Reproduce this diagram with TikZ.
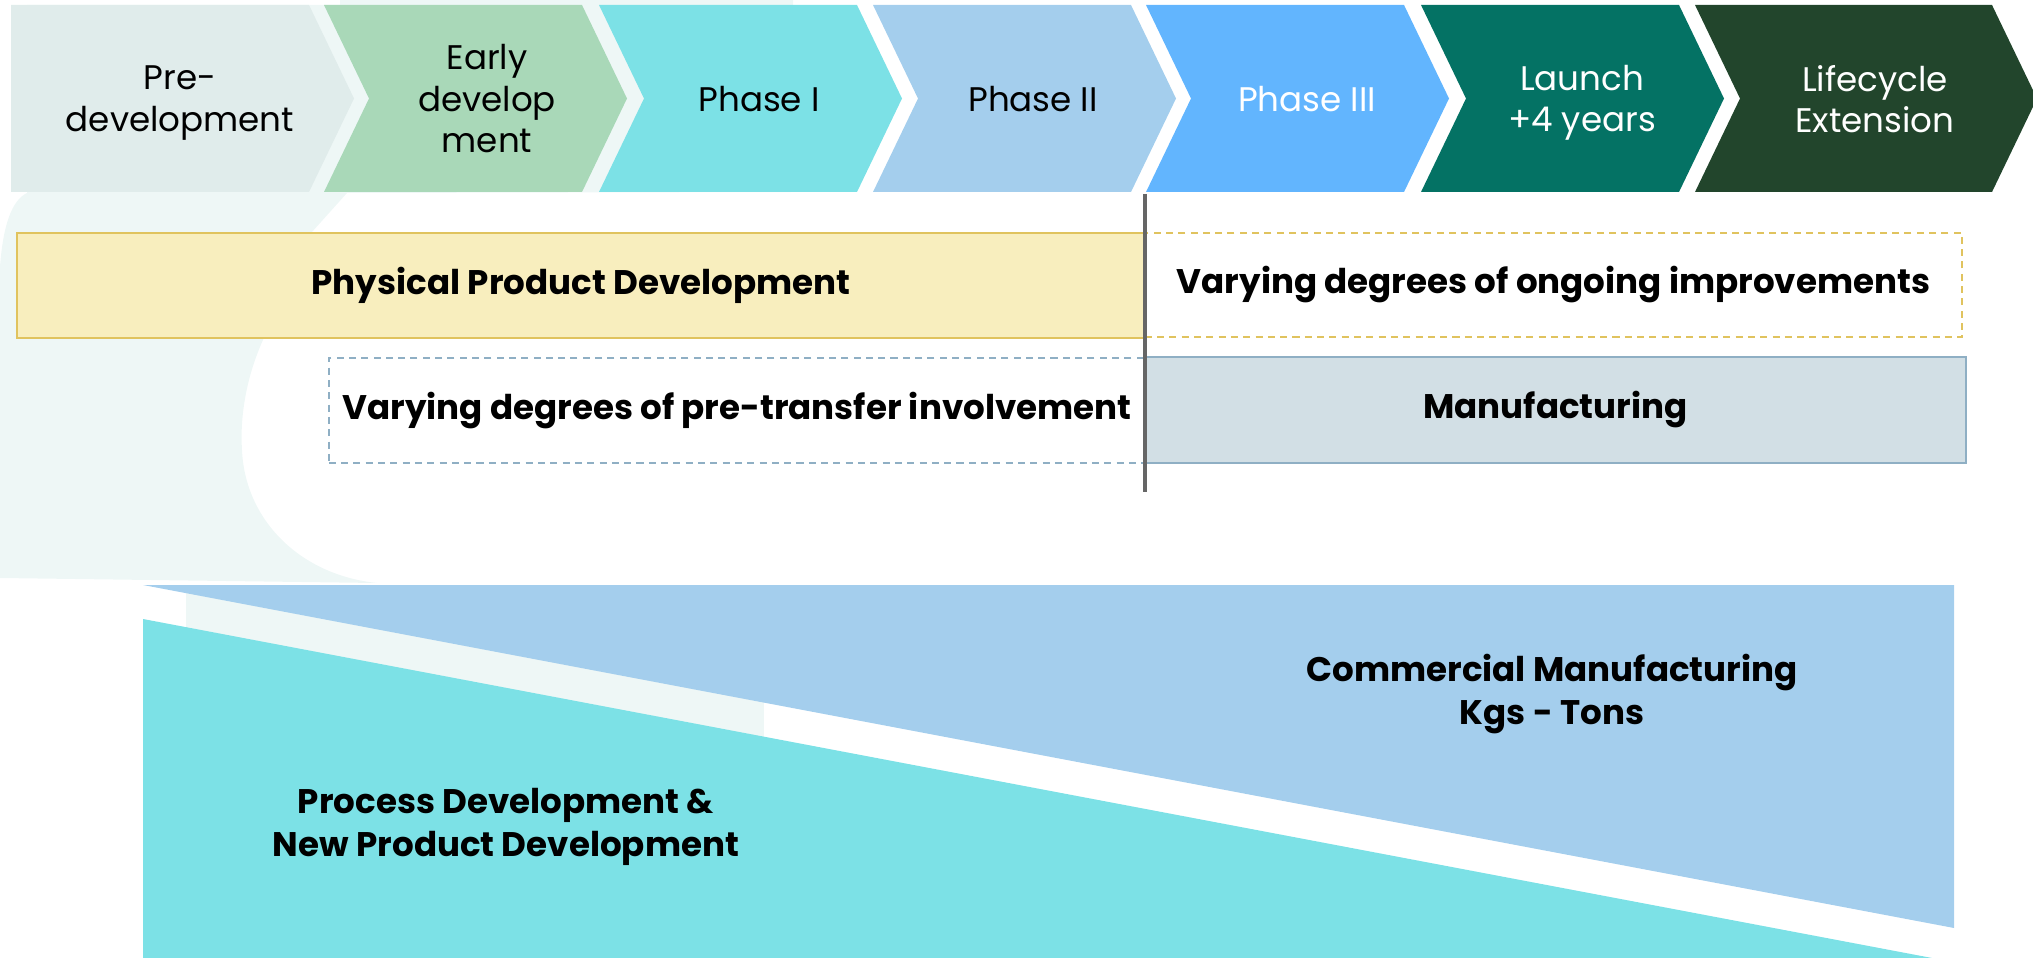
\documentclass[tikz,border=0pt]{standalone}
\usepackage{fontspec}
\setmainfont{Poppins}
\usepackage{tikz}

\definecolor{predev}{HTML}{E0ECEB}
\definecolor{early}{HTML}{A9D8B8}
\definecolor{phaseone}{HTML}{7CE1E6}
\definecolor{phasetwo}{HTML}{A4CEED}
\definecolor{phasethree}{HTML}{62B5FE}
\definecolor{launch}{HTML}{047264}
\definecolor{lifecycle}{HTML}{22452C}
\definecolor{blob}{HTML}{EEF7F6}
\definecolor{pdfill}{HTML}{F8EEBE}
\definecolor{pdline}{HTML}{E0C35E}
\definecolor{mfgfill}{HTML}{D2DFE5}
\definecolor{mfgline}{HTML}{8FAFC4}
\definecolor{splitline}{HTML}{666666}

\tikzset{
  phase/.style={align=center, font=\fontsize{9.7}{11.8}\selectfont},
  band/.style={align=center, font=\bfseries\fontsize{9.7}{12}\selectfont},
  pdbox/.style={band, fill=pdfill, draw=pdline, line width=0.6pt},
  ongoing/.style={band, draw=pdline, dash pattern=on 2pt off 1.5pt, line width=0.6pt},
  pretransfer/.style={band, draw=mfgline, dash pattern=on 2pt off 1.5pt, line width=0.6pt},
  mfgbox/.style={band, fill=mfgfill, draw=mfgline, line width=0.6pt},
}

\begin{document}
\begin{tikzpicture}[x=0.01cm, y=-0.01cm]
    \useasboundingbox (0,0) rectangle (2033,958);

    % faint shape in the back
    \fill[blob] (27,193) -- (27,5) -- (340,5) -- (340,0) -- (793,0) -- (793,192) -- (347,193)
        -- (312,232) -- (263,340)
        .. controls (245,380) and (240,420) .. (242,450)
        .. controls (245,520) and (300,575) .. (377,583) -- (0,578) -- (0,267)
        .. controls (3,225) and (12,200) .. (27,193) -- cycle;
    \fill[blob] (186,585) rectangle (764,760);

    % chevrons
    \foreach \x/\w/\n/\t/\ty/\col/\tc/\nm/\lbl in {
        11/298/0/180/103/predev/black/pre/{Pre-\\development},
        324/258/45/487/99/early/black/early/{Early\\develop\\ment},
        599/258/45/759/99/phaseone/black/ph1/{Phase I},
        873/258/45/1033/99/phasetwo/black/ph2/{Phase II},
        1146/258/45/1307/99/phasethree/white/ph3/{Phase III},
        1421/258/45/1582/103/launch/white/launch/{Launch\\+4 years},
        1695/297/45/1875/99/lifecycle/white/life/{Lifecycle\\Extension}}
    {
        \fill[\col] (\x,5) -- ++(\w,0) -- ++(45,93.5) -- ++(-45,93.5) -- (\x,192) -- ++(\n,-93.5) -- cycle;
        \node[phase, text=\tc] (\nm) at (\t,\ty) {\lbl};
    }

    % bands
    \node[pdbox, minimum width=11.28cm, minimum height=1.05cm] (phys) at (581,285.5) {Physical Product Development};
    \node[ongoing, minimum width=8.17cm, minimum height=1.04cm] (ongo) at (1553.5,285) {Varying degrees of ongoing improvements};
    \node[pretransfer, minimum width=8.16cm, minimum height=1.05cm] (pretr) at (737,410.5) {Varying degrees of pre-transfer involvement};
    \node[mfgbox, minimum width=8.21cm, minimum height=1.06cm] (mfg) at (1555.5,410) {Manufacturing};

    \coordinate (splittop) at (1145,194);
    \coordinate (splitbot) at (1145,492);
    \draw[splitline, line width=1.3pt] (splittop) -- (splitbot);

    % volume wedges
    \fill[phasetwo] (143,585) -- (1954,585) -- (1954,928) -- cycle;
    \fill[phaseone] (143,619) -- (1932,958) -- (143,958) -- cycle;
    \node[band] (comm) at (1552,694) {Commercial Manufacturing\\Kgs - Tons};
    \node[band] (proc) at (506,827) {Process Development \&\\New Product Development};
\end{tikzpicture}
\end{document}
